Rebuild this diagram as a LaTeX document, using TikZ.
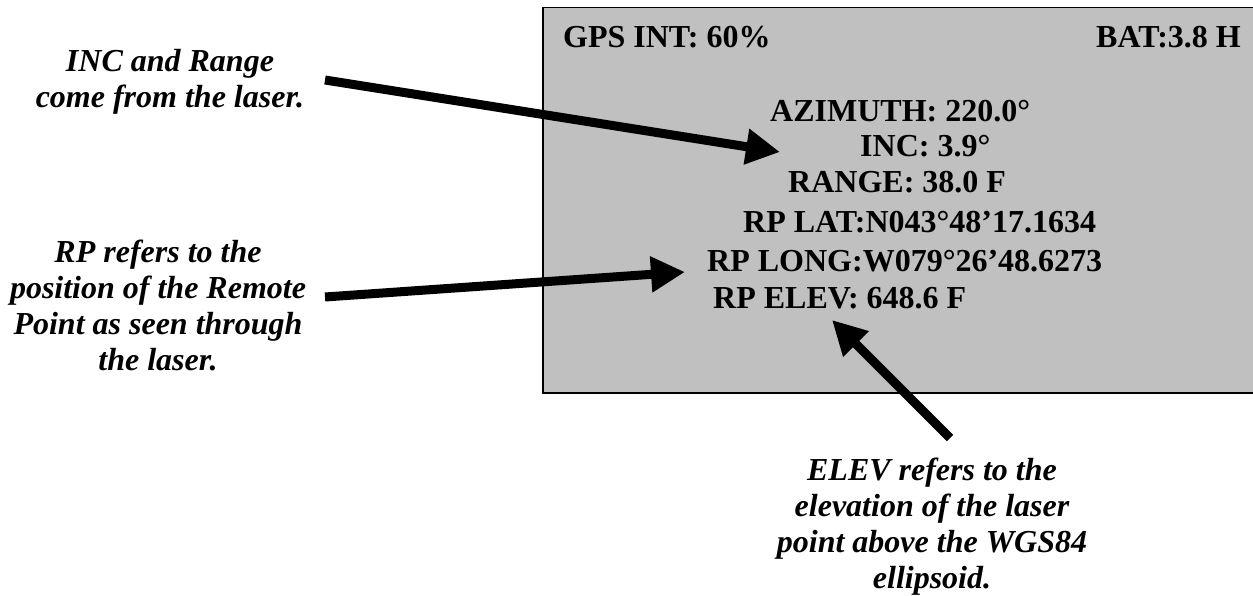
\documentclass[tikz,border=0pt]{standalone}
\usepackage{fontspec}
\setmainfont{Liberation Serif}
\usetikzlibrary{arrows.meta}
\definecolor{screengray}{HTML}{C0C0C0}
\tikzset{
  readout/.style={anchor=base west, inner sep=0pt, font=\fontsize{32}{36}\selectfont\bfseries},
  note/.style={anchor=base, align=center, inner sep=0pt, font=\fontsize{32}{36}\selectfont\bfseries\itshape},
  pointer/.style={line width=9pt, -{Triangle[length=34pt,width=34pt]}}
}

\begin{document}
\begin{tikzpicture}[x=1pt, y=-1pt]
\useasboundingbox (0,0) rectangle (1253,596);

% Display
\node[draw=black, line width=1.5pt, fill=screengray, anchor=north west, inner sep=0pt,
  minimum width=740pt, minimum height=385pt] (screen) at (542,7) {};

% Status line
\node[readout] (gps) at (563,48) {GPS INT: 60\%};
\node[readout, anchor=base east] (bat) at (1241,48) {BAT:3.8 H};

% Readings
\node[readout] (azimuth) at (770,122) {AZIMUTH: 220.0°};
\node[readout] (inc) at (860,157) {INC: 3.9°};
\node[readout] (range) at (788,193) {RANGE: 38.0 F};
\node[readout] (lat) at (743,233) {RP LAT:N043°48’17.1634};
\node[readout] (long) at (707,272) {RP LONG:W079°26’48.6273};
\node[readout] (elev) at (713,308) {RP ELEV: 648.6 F};

% Notes (base = last line)
\node[note] (incnote) at (170,108) {INC and Range\\come from the laser.};
\node[note] (rpnote) at (158,370) {RP refers to the\\position of the Remote\\Point as seen through\\the laser.};
\node[note] (elevnote) at (932,588) {ELEV refers to the\\elevation of the laser\\point above the WGS84\\ellipsoid.};

% Pointers
\coordinate (incfrom) at (325,80);
\coordinate (incto) at (780,152);
\coordinate (rpfrom) at (325,297);
\coordinate (rpto) at (685,272);
\coordinate (elevfrom) at (950,438);
\coordinate (elevto) at (832,320);
\draw[pointer] (incfrom) -- (incto);
\draw[pointer] (rpfrom) -- (rpto);
\draw[pointer] (elevfrom) -- (elevto);

\end{tikzpicture}
\end{document}
